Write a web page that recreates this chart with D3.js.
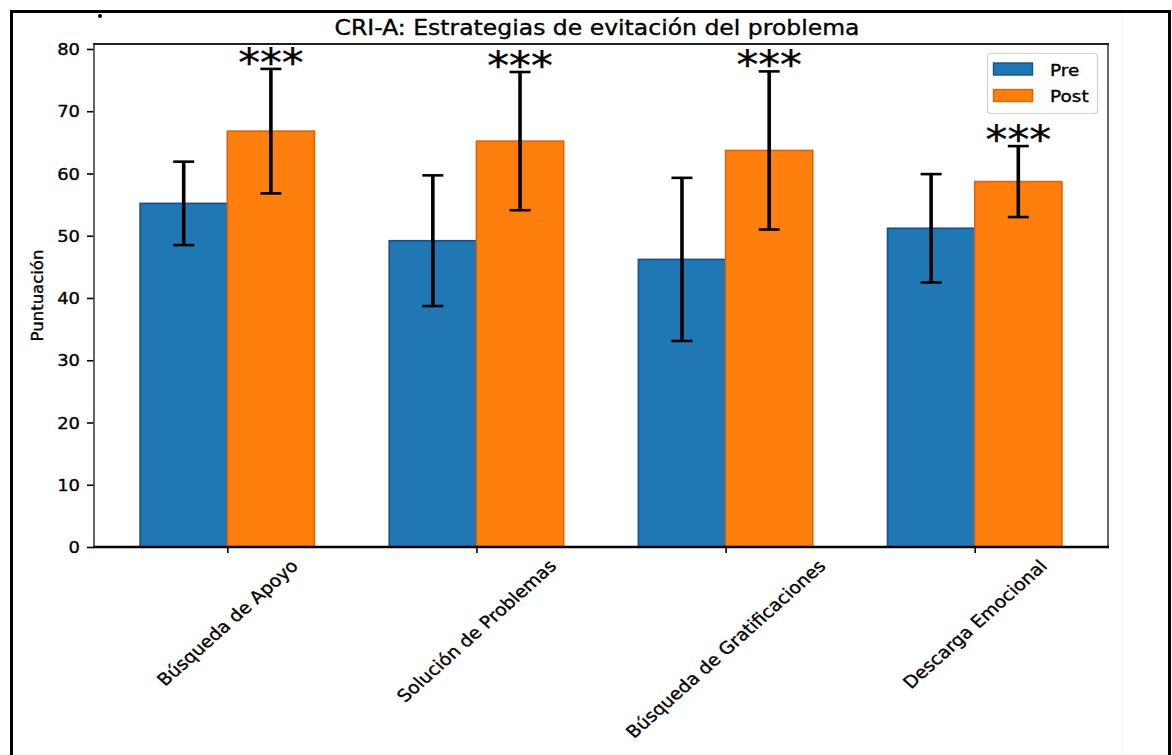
<!DOCTYPE html>
<html>
<head>
<meta charset="utf-8">
<script src="https://cdn.jsdelivr.net/npm/d3@7"></script>
<style>
  html, body { margin: 0; padding: 0; background: #fff; }
  svg { display: block; }
  text { font-family: "DejaVu Sans", sans-serif; fill: #000; stroke: #000; stroke-width: 0.35px; }
</style>
</head>
<body>
<svg id="chart" width="1172" height="755"></svg>
<script>
// CRI-A avoidance strategies: mean scores (± SD) before and after
const categories = ["Búsqueda de Apoyo", "Solución de Problemas", "Búsqueda de Gratificaciones", "Descarga Emocional"];
const preMeans  = [55.2, 49.2, 46.2, 51.2];
const preSD     = [6.7, 10.5, 13.1, 8.7];
const postMeans = [66.8, 65.2, 63.7, 58.7];
const postSD    = [10.0, 11.1, 12.7, 5.7];
const significance = ["***", "***", "***", "***"];
const seriesNames = ["Pre", "Post"];
const yTicks = [0, 10, 20, 30, 40, 50, 60, 70, 80];

const colors = { Pre: "#1f77b4", Post: "#ff7f0e" };
const edges  = { Pre: "#174f86", Post: "#d8650c" };
const SX = 1.12;          // horizontal text stretch
const BAR_W = 0.35;

const svg = d3.select("#chart");
const plot = { left: 94, right: 1108, top: 44, bottom: 547 };

const x = d3.scaleLinear().domain([-0.535, categories.length - 1 + 0.535]).range([plot.left, plot.right]);
const y = d3.scaleLinear().domain([0, 80.8]).range([plot.bottom, plot.top]);

// outer frame
svg.append("rect").attr("x", 11.5).attr("y", 11.5).attr("width", 1158).attr("height", 800)
  .attr("fill", "none").attr("stroke", "#000").attr("stroke-width", 3);
svg.append("line").attr("x1", 1122).attr("x2", 1122).attr("y1", 13).attr("y2", 755)
  .attr("stroke", "#f2f2f2").attr("stroke-width", 1);
svg.append("circle").attr("cx", 100).attr("cy", 16).attr("r", 2).attr("fill", "#000");

// bars
const rows = categories.map((c, i) => ({
  i, c,
  groups: [
    { key: "Pre",  v: preMeans[i],  sd: preSD[i],  x0: i - BAR_W },
    { key: "Post", v: postMeans[i], sd: postSD[i], x0: i }
  ]
}));

const barG = svg.append("g");
rows.forEach(r => {
  r.groups.forEach(g => {
    barG.append("rect")
      .attr("x", x(g.x0))
      .attr("y", y(g.v))
      .attr("width", x(g.x0 + BAR_W) - x(g.x0))
      .attr("height", y(0) - y(g.v))
      .attr("fill", colors[g.key])
      .attr("stroke", edges[g.key])
      .attr("stroke-width", 1.6);
  });
});

// error bars
const errG = svg.append("g").attr("stroke", "#000");
rows.forEach(r => {
  r.groups.forEach(g => {
    const cx = x(g.x0 + BAR_W / 2);
    const hi = y(g.v + g.sd), lo = y(g.v - g.sd);
    errG.append("line").attr("x1", cx).attr("x2", cx).attr("y1", hi).attr("y2", lo).attr("stroke-width", 3.6);
    errG.append("line").attr("x1", cx - 10.5).attr("x2", cx + 10.5).attr("y1", hi).attr("y2", hi).attr("stroke-width", 2.6);
    errG.append("line").attr("x1", cx - 10.5).attr("x2", cx + 10.5).attr("y1", lo).attr("y2", lo).attr("stroke-width", 2.6);
  });
});

// significance stars above the post bars
rows.forEach(r => {
  const g = r.groups[1];
  const cx = x(g.x0 + BAR_W / 2);
  svg.append("text")
    .attr("transform", `translate(${cx},${y(g.v + g.sd) + 7}) scale(${SX},1)`)
    .attr("text-anchor", "middle")
    .style("font-size", "39px")
    .text(significance[r.i]);
});

// y axis
const yAxis = svg.append("g").attr("transform", `translate(${plot.left},0)`)
  .call(d3.axisLeft(y).tickValues(yTicks).tickSize(7).tickFormat(d3.format("d")));
yAxis.select(".domain").remove();
yAxis.selectAll(".tick line").attr("stroke", "#000").attr("stroke-width", 1.6);
yAxis.selectAll(".tick text")
  .attr("x", null).attr("dy", null)
  .attr("transform", `translate(-14,0) scale(${SX},1)`)
  .attr("dominant-baseline", "central")
  .style("font-size", "16px").style("font-family", "DejaVu Sans");

// x axis ticks
const xAxis = svg.append("g").attr("transform", `translate(0,${plot.bottom})`)
  .call(d3.axisBottom(x).tickValues(d3.range(categories.length)).tickSize(6).tickFormat(""));
xAxis.select(".domain").remove();
xAxis.selectAll(".tick line").attr("stroke", "#000").attr("stroke-width", 1.6);

// rotated category labels, bounding box centred under each tick
const labelTop = 557;
categories.forEach((c, i) => {
  const t = svg.append("text")
    .attr("text-anchor", "middle")
    .attr("dominant-baseline", "central")
    .style("font-size", "17px")
    .text(c);
  const L = t.node().getComputedTextLength();
  const h = 17 * 0.95;
  const half = (L + h) / Math.SQRT2 / 2;
  t.attr("transform", `translate(${x(i)},${labelTop + half}) scale(${SX},1) rotate(-45)`);
});

// spines
svg.append("line").attr("x1", plot.left).attr("x2", plot.left).attr("y1", plot.top).attr("y2", plot.bottom)
  .attr("stroke", "#555").attr("stroke-width", 1.8);
svg.append("line").attr("x1", plot.right).attr("x2", plot.right).attr("y1", plot.top).attr("y2", plot.bottom)
  .attr("stroke", "#555").attr("stroke-width", 1.8);
svg.append("line").attr("x1", plot.left - 1).attr("x2", plot.right + 1).attr("y1", plot.top).attr("y2", plot.top)
  .attr("stroke", "#222").attr("stroke-width", 2);
svg.append("line").attr("x1", plot.left - 1).attr("x2", plot.right + 1).attr("y1", plot.bottom).attr("y2", plot.bottom)
  .attr("stroke", "#000").attr("stroke-width", 2.4);

// axis label
svg.append("text")
  .attr("transform", `translate(43,${(plot.top + plot.bottom) / 2}) rotate(-90)`)
  .attr("text-anchor", "middle")
  .style("font-size", "16.5px")
  .text("Puntuación");

// title
svg.append("text")
  .attr("transform", `translate(${(plot.left + plot.right) / 2 - 4},35) scale(${SX},1)`)
  .attr("text-anchor", "middle")
  .style("font-size", "21px")
  .text("CRI-A: Estrategias de evitación del problema");

// legend
const lg = svg.append("g");
lg.append("rect").attr("x", 987.5).attr("y", 53.5).attr("width", 110).attr("height", 60).attr("rx", 3)
  .attr("fill", "#fff").attr("stroke", "#d0d0d0").attr("stroke-width", 1.2);
seriesNames.forEach((s, k) => {
  const yy = 63 + k * 26.5;
  lg.append("rect").attr("x", 993.5).attr("y", yy).attr("width", 39).attr("height", 12)
    .attr("fill", colors[s]).attr("stroke", edges[s]).attr("stroke-width", 1.4);
  lg.append("text")
    .attr("transform", `translate(1050,${yy + 12.5}) scale(${SX},1)`)
    .style("font-size", "16.5px")
    .text(s);
});
</script>
</body>
</html>
